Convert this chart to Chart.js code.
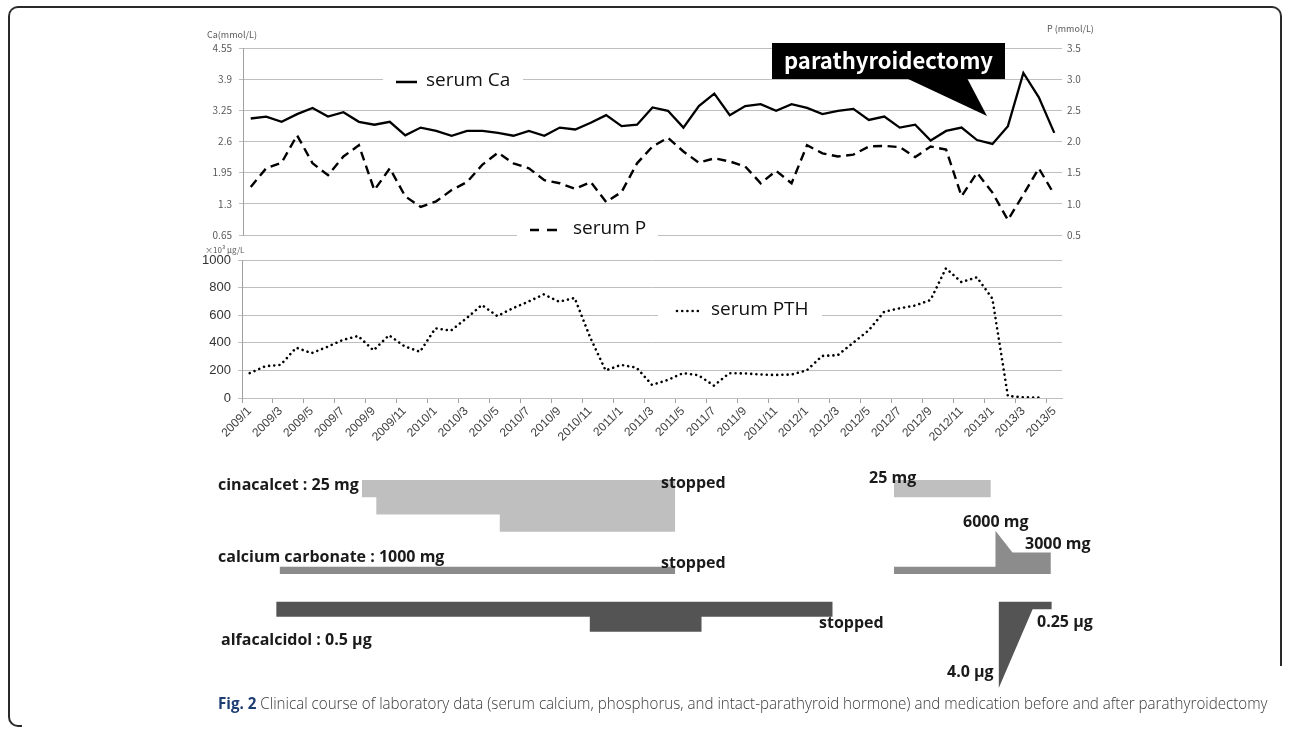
<!DOCTYPE html>
<html>
<head>
<meta charset="utf-8">
<script src="https://cdn.jsdelivr.net/npm/chart.js@4.4.1/dist/chart.umd.min.js"></script>
<style>
  body { margin: 0; width: 1290px; height: 734px; overflow: hidden; position: relative; background: #fff; }
  canvas { position: absolute; left: 0; }
  .unit { position: absolute; white-space: nowrap; font: 9px "Noto Sans CJK JP", sans-serif; color: #595959; line-height: 10px; }
  #frameTop { position: absolute; left: 8px; top: 6px; width: 1274px; height: 660px; border: 2px solid #2a2a2a; border-bottom: none; border-radius: 10px 10px 0 0; box-sizing: border-box; }
  #frameBottom { position: absolute; left: 8px; top: 660px; width: 14px; height: 67px; border-left: 2px solid #2a2a2a; border-bottom: 2px solid #2a2a2a; border-radius: 0 0 0 10px; box-sizing: border-box; }
  #caption { position: absolute; left: 218px; top: 695px; white-space: nowrap; font: 300 16px "Open Sans", sans-serif; color: #3a3a3a; line-height: 16px; transform-origin: 0 0; }
  #caption b { font-weight: 700; color: #1e3d73; }
</style>
</head>
<body>
<div id="frameTop"></div>
<div id="frameBottom"></div>
<canvas id="labChart" width="1290" height="250" style="top:0"></canvas>
<canvas id="pthChart" width="1290" height="220" style="top:245px"></canvas>
<canvas id="medChart" width="1290" height="230" style="top:470px"></canvas>
<div class="unit" style="left:207px;top:30px">Ca(mmol/L)</div>
<div class="unit" style="left:1047px;top:24px">P (mmol/L)</div>
<div class="unit" style="left:205px;top:245px;font-size:8px">×10³ μg/L</div>
<div id="caption"><b>Fig. 2</b> Clinical course of laboratory data (serum calcium, phosphorus, and intact-parathyroid hormone) and medication before and after parathyroidectomy</div>
<script>
// months, 2009/1 .. 2013/5
const months = [
  "2009/1", "2009/2", "2009/3", "2009/4", "2009/5", "2009/6", "2009/7", "2009/8", "2009/9", "2009/10", "2009/11", "2009/12",
  "2010/1", "2010/2", "2010/3", "2010/4", "2010/5", "2010/6", "2010/7", "2010/8", "2010/9", "2010/10", "2010/11", "2010/12",
  "2011/1", "2011/2", "2011/3", "2011/4", "2011/5", "2011/6", "2011/7", "2011/8", "2011/9", "2011/10", "2011/11", "2011/12",
  "2012/1", "2012/2", "2012/3", "2012/4", "2012/5", "2012/6", "2012/7", "2012/8", "2012/9", "2012/10", "2012/11", "2012/12",
  "2013/1", "2013/2", "2013/3", "2013/4", "2013/5"
];

// serum Ca (mmol/L)
const serumCa = [
  3.08, 3.12, 3.01, 3.17, 3.30, 3.12, 3.21, 3.01, 2.95, 3.01,
  2.73, 2.89, 2.82, 2.72, 2.82, 2.82, 2.78, 2.72, 2.82, 2.72,
  2.89, 2.85, 2.99, 3.15, 2.92, 2.95, 3.31, 3.24, 2.89, 3.34,
  3.60, 3.15, 3.34, 3.38, 3.24, 3.38, 3.30, 3.17, 3.24, 3.28,
  3.05, 3.12, 2.89, 2.95, 2.62, 2.82, 2.89, 2.63, 2.55, 2.92,
  4.03, 3.52, 2.78
];

// serum P (mmol/L)
const serumP = [
  1.27, 1.57, 1.66, 2.10, 1.65, 1.46, 1.76, 1.94, 1.22, 1.57,
  1.12, 0.95, 1.04, 1.22, 1.35, 1.63, 1.82, 1.65, 1.57, 1.38,
  1.33, 1.24, 1.35, 1.03, 1.19, 1.65, 1.92, 2.06, 1.84, 1.66,
  1.73, 1.68, 1.60, 1.33, 1.53, 1.33, 1.94, 1.81, 1.76, 1.79,
  1.92, 1.93, 1.91, 1.75, 1.92, 1.87, 1.12, 1.50, 1.18, 0.74,
  1.15, 1.57, 1.15
];

// serum PTH (x10^3 ug/L), no value for 2013/5
const serumPTH = [
  180, 230, 240, 365, 325, 370, 420, 450, 345, 455,
  375, 335, 505, 488, 577, 674, 594, 650, 698, 751,
  698, 725, 440, 200, 240, 220, 95, 130, 180, 165,
  90, 180, 178, 170, 167, 170, 200, 305, 310, 400,
  490, 625, 650, 670, 710, 940, 840, 875, 720, 15,
  5, 3, null
];

const caTicks = [0.65, 1.3, 1.95, 2.6, 3.25, 3.9, 4.55];
const pTicks = [0.5, 1.0, 1.5, 2.0, 2.5, 3.0, 3.5];
const pthTicks = [0, 200, 400, 600, 800, 1000];

// medication courses: x = months elapsed since start of 2009/1, y = dose as drawn
const cinacalcetX = [7.75, 8.68, 8.68, 16.66, 16.66, 28.0];
const cinacalcetMg = [25, 25, 50, 50, 75, 75];
const cinacalcet2X = [42.14, 48.4];
const cinacalcet2Mg = [25, 25];
const carbonateX = [2.43, 28.0];
const carbonateMg = [1000, 1000];
const carbonate2X = [42.14, 48.7, 48.7, 49.8, 52.28];
const carbonate2Mg = [1000, 1000, 6000, 3000, 3000];
const alfacalcidolX = [2.21, 22.48, 22.48, 29.7, 29.7, 38.18];
const alfacalcidolUg = [0.5, 0.5, 1.0, 1.0, 0.5, 0.5];
const alfacalcidol2X = [48.9, 51.1, 52.34];
const alfacalcidol2Ug = [2.9, 0.25, 0.25]; // peak drawn shorter than its 4.0 ug label

const medNotes = [
  ["cinacalcet : 25 mg", 218, 490], ["stopped", 661, 488], ["25 mg", 869, 483],
  ["calcium carbonate : 1000 mg", 218, 562], ["stopped", 661, 568],
  ["6000 mg", 963, 527], ["3000 mg", 1025, 549],
  ["alfacalcidol : 0.5 µg", 221, 645], ["stopped", 819, 628],
  ["0.25 µg", 1037, 627], ["4.0 µg", 947, 677]
];

const GRID = "#bfbfbf";
const AXIS = "#a0a0a0";
const TICK_SMALL = { family: "'Noto Sans CJK JP', sans-serif", size: 10 };
const LEGEND_FONT = "19px 'Open Sans', sans-serif";

const pts = (xs, ys) => xs.map((x, i) => ({ x: x, y: ys[i] }));

const labLegend = {
  id: "labLegend",
  beforeDatasetsDraw(chart) {
    const ctx = chart.ctx;
    ctx.save();
    ctx.fillStyle = "#fff";
    ctx.fillRect(383, 70, 140, 23);
    ctx.fillRect(517, 222, 141, 20);
    ctx.strokeStyle = "#000";
    ctx.lineWidth = 2.4;
    ctx.beginPath();
    ctx.moveTo(396, 82); ctx.lineTo(417, 82);
    ctx.moveTo(530, 230); ctx.lineTo(539, 230);
    ctx.moveTo(547, 230); ctx.lineTo(557, 230);
    ctx.stroke();
    ctx.fillStyle = "#111";
    ctx.font = LEGEND_FONT;
    ctx.textBaseline = "middle";
    ctx.fillText("serum Ca", 426, 81);
    ctx.fillText("serum P", 573, 229);
    ctx.restore();
  },
  afterDatasetsDraw(chart) {
    const ctx = chart.ctx;
    ctx.save();
    ctx.fillStyle = "#000";
    ctx.fillRect(772, 43, 233, 36);
    ctx.beginPath();
    ctx.moveTo(906, 78); ctx.lineTo(967, 78); ctx.lineTo(987, 116);
    ctx.closePath();
    ctx.fill();
    const txt = "parathyroidectomy";
    ctx.font = "bold 22px 'Noto Sans CJK JP', sans-serif";
    const size = 22 * 209 / ctx.measureText(txt).width;
    ctx.font = "bold " + size.toFixed(2) + "px 'Noto Sans CJK JP', sans-serif";
    ctx.fillStyle = "#fff";
    ctx.textAlign = "center";
    ctx.textBaseline = "middle";
    ctx.fillText(txt, 888.5, 61);
    ctx.restore();
  }
};

const pthLegend = {
  id: "pthLegend",
  beforeDatasetsDraw(chart) {
    const ctx = chart.ctx;
    ctx.save();
    ctx.fillStyle = "#fff";
    ctx.fillRect(658, 54, 164, 22);
    ctx.strokeStyle = "#000";
    ctx.lineWidth = 2.6;
    ctx.lineCap = "round";
    ctx.setLineDash([0.01, 5.2]);
    ctx.beginPath();
    ctx.moveTo(677, 66); ctx.lineTo(702, 66);
    ctx.stroke();
    ctx.fillStyle = "#111";
    ctx.font = LEGEND_FONT;
    ctx.textBaseline = "middle";
    ctx.fillText("serum PTH", 711, 65);
    ctx.restore();
  }
};

const medLabels = {
  id: "medLabels",
  afterDatasetsDraw(chart) {
    const ctx = chart.ctx;
    ctx.save();
    ctx.fillStyle = "#1a1a1a";
    ctx.font = "bold 16px 'Open Sans', sans-serif";
    ctx.textBaseline = "alphabetic";
    medNotes.forEach(([t, x, y]) => ctx.fillText(t, x, y - 470));
    ctx.restore();
  }
};

new Chart(document.getElementById("labChart"), {
  type: "line",
  data: {
    labels: months,
    datasets: [
      { label: "serum Ca", data: serumCa, yAxisID: "yCa", borderColor: "#000", borderWidth: 2.3 },
      { label: "serum P", data: serumP, yAxisID: "yP", borderColor: "#000", borderWidth: 2.4, borderDash: [9, 5.5] }
    ]
  },
  options: {
    responsive: false,
    devicePixelRatio: 1,
    animation: false,
    layout: { padding: { top: 48, bottom: 15, left: 0, right: 0 } },
    elements: { point: { radius: 0 }, line: { tension: 0 } },
    plugins: { legend: { display: false }, tooltip: { enabled: false } },
    scales: {
      x: { type: "category", offset: true, display: false },
      yCa: {
        position: "left", min: 0.65, max: 4.55,
        afterBuildTicks: (s) => { s.ticks = caTicks.map((v) => ({ value: v })); },
        afterFit: (s) => { s.width = 243; },
        ticks: { font: TICK_SMALL, color: "#595959", padding: 7, callback: (v) => String(v) },
        grid: { color: GRID, lineWidth: 1, tickLength: 4 },
        border: { color: AXIS }
      },
      yP: {
        position: "right", min: 0.5, max: 3.5,
        afterBuildTicks: (s) => { s.ticks = pTicks.map((v) => ({ value: v })); },
        afterFit: (s) => { s.width = 228; },
        ticks: { font: TICK_SMALL, color: "#595959", padding: 5, callback: (v) => v.toFixed(1) },
        grid: { display: false, drawTicks: false },
        border: { display: false }
      }
    }
  },
  plugins: [labLegend]
});

new Chart(document.getElementById("pthChart"), {
  type: "line",
  data: {
    labels: months,
    datasets: [
      { label: "serum PTH", data: serumPTH, borderColor: "#000", borderWidth: 2.6,
        borderDash: [0.01, 5.2], borderCapStyle: "round" }
    ]
  },
  options: {
    responsive: false,
    devicePixelRatio: 1,
    animation: false,
    layout: { padding: { top: 15, bottom: 5, left: 0, right: 228 } },
    elements: { point: { radius: 0 }, line: { tension: 0 } },
    plugins: { legend: { display: false }, tooltip: { enabled: false } },
    scales: {
      x: {
        type: "category", offset: true,
        afterFit: (s) => { s.height = 62; },
        ticks: {
          autoSkip: false, minRotation: 45, maxRotation: 45, padding: 1,
          font: { family: "'Liberation Sans', sans-serif", size: 12 }, color: "#404040",
          callback: (v, i) => (i % 2 === 0 ? months[i] : "")
        },
        grid: {
          offset: true, drawOnChartArea: false, tickLength: 5,
          color: (c) => (c.index % 2 === 0 ? AXIS : "rgba(0,0,0,0)")
        },
        border: { color: GRID }
      },
      y: {
        min: 0, max: 1000,
        afterBuildTicks: (s) => { s.ticks = pthTicks.map((v) => ({ value: v })); },
        afterFit: (s) => { s.width = 242; },
        ticks: { font: { family: "'Liberation Sans', sans-serif", size: 13 }, color: "#333", padding: 7,
          callback: (v) => String(v) },
        grid: { color: GRID, tickLength: 4 },
        border: { color: AXIS }
      }
    }
  },
  plugins: [pthLegend]
});

const medSet = (xs, ys, axis, color) => ({
  data: pts(xs, ys), yAxisID: axis, fill: "origin",
  backgroundColor: color, borderColor: "rgba(0,0,0,0)", borderWidth: 0, pointRadius: 0
});

new Chart(document.getElementById("medChart"), {
  type: "line",
  data: {
    datasets: [
      medSet(cinacalcetX, cinacalcetMg, "yCin", "#bfbfbf"),
      medSet(cinacalcet2X, cinacalcet2Mg, "yCin", "#bfbfbf"),
      medSet(carbonateX, carbonateMg, "yCarb", "#8c8c8c"),
      medSet(carbonate2X, carbonate2Mg, "yCarb", "#8c8c8c"),
      medSet(alfacalcidolX, alfacalcidolUg, "yAlf", "#545454"),
      medSet(alfacalcidol2X, alfacalcidol2Ug, "yAlf", "#545454")
    ]
  },
  options: {
    responsive: false,
    devicePixelRatio: 1,
    animation: false,
    layout: { padding: { top: 0, bottom: 0, left: 242, right: 228 } },
    elements: { line: { tension: 0 } },
    plugins: { legend: { display: false }, tooltip: { enabled: false } },
    scales: {
      x: { type: "linear", min: 0, max: 53, display: false },
      yCin: { display: false, reverse: true, min: -14.5, max: 319.3 },
      yCarb: { display: false, min: -17500, max: 14444 },
      yAlf: { display: false, reverse: true, min: -4.39, max: 3.28 }
    }
  },
  plugins: [medLabels]
});

// condense caption to the reference's line width
const cap = document.getElementById("caption");
cap.style.transform = "scaleX(" + (1050 / cap.offsetWidth).toFixed(4) + ")";
</script>
</body>
</html>
